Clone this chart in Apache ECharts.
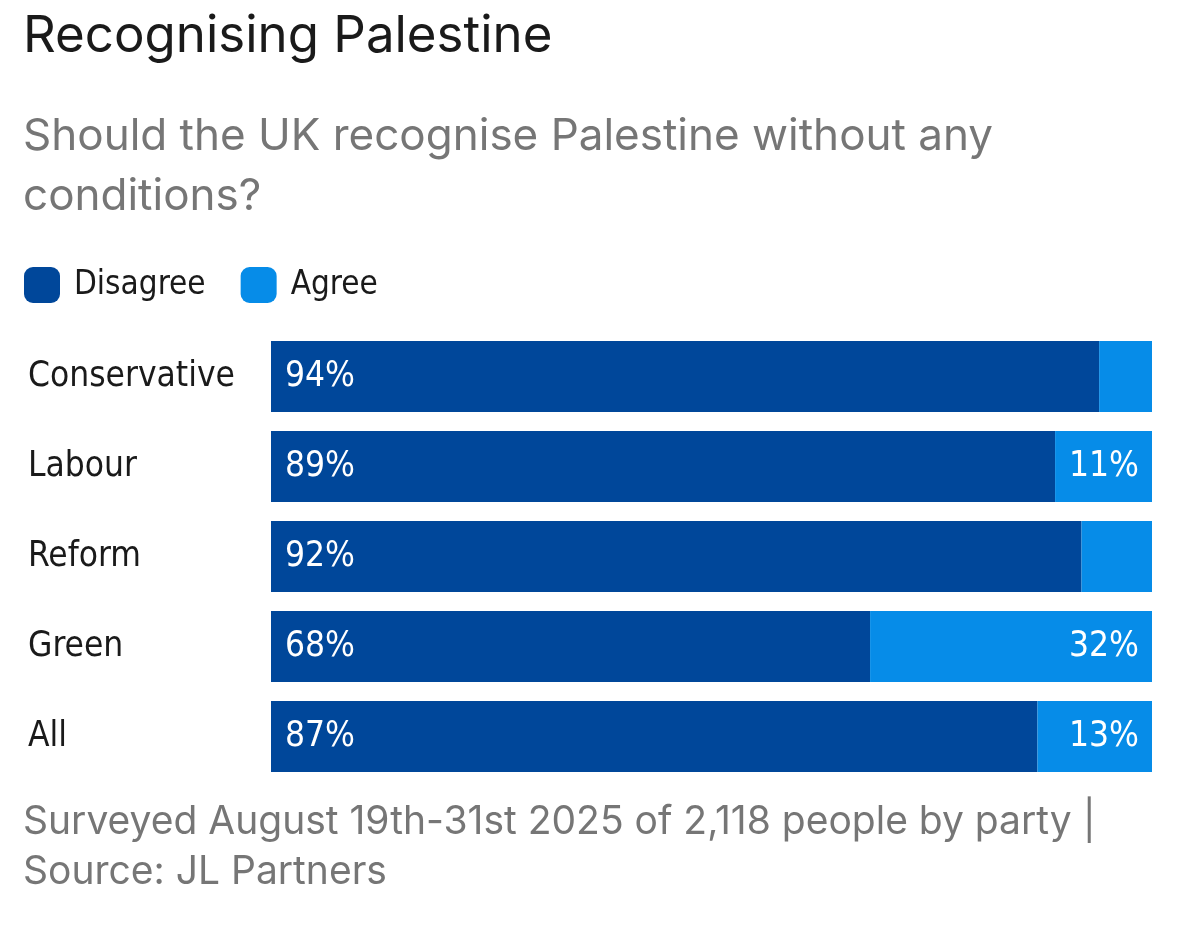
<!DOCTYPE html>
<html><head><meta charset="utf-8">
<script src="https://cdn.jsdelivr.net/npm/echarts@6/dist/echarts.min.js"></script>
<style>html,body{margin:0;padding:0;background:#fff}#c{width:1179px;height:933px}</style>
</head><body><div id="c"></div>
<script>
const categories = ['Conservative', 'Labour', 'Reform', 'Green', 'All'];
const disagree = [94, 89, 92, 68, 87];
const agree = [6, 11, 8, 32, 13];
const titleText = 'Recognising Palestine';
const subtitleText = 'Should the UK recognise Palestine without any\nconditions?';
const footerText = 'Surveyed August 19th-31st 2025 of 2,118 people by party |\nSource: JL Partners';

const cond = '"DejaVu Sans Condensed", "Liberation Sans Narrow", sans-serif';
const chart = echarts.init(document.getElementById('c'), null, {renderer: 'canvas'});
chart.setOption({
  backgroundColor: '#fff',
  animation: false,
  title: [
    {text: titleText, left: 18, top: 6, textStyle: {fontFamily: 'Inter, sans-serif', fontSize: 51, fontWeight: 'normal', color: '#1a1a1a'}},
    {text: subtitleText, left: 18, top: 102, textStyle: {fontFamily: 'Inter, sans-serif', fontSize: 44, fontWeight: 'normal', color: '#767676', lineHeight: 60}},
    {text: footerText, left: 18, top: 792, textStyle: {fontFamily: 'Inter, sans-serif', fontSize: 39, fontWeight: 'normal', color: '#767676', lineHeight: 50}}
  ],
  legend: {
    left: 19, top: 262, itemWidth: 36, itemHeight: 36, itemGap: 35,
    icon: 'roundRect',
    textStyle: {fontFamily: cond, fontSize: 33, color: '#1a1a1a', padding: [3, 0, 0, 9]},
    data: ['Disagree', 'Agree']
  },
  grid: {left: 271, right: 27, top: 331.5, bottom: 151.5, containLabel: false},
  xAxis: {type: 'value', min: 0, max: 100, show: false},
  yAxis: {
    type: 'category', data: categories, inverse: true,
    axisLine: {show: false}, axisTick: {show: false},
    axisLabel: {align: 'left', margin: 243, fontFamily: cond, fontSize: 35, color: '#1a1a1a'}
  },
  series: [
    {name: 'Disagree', type: 'bar', stack: 's', data: disagree, barWidth: 71,
     itemStyle: {color: '#00479a'},
     label: {show: true, position: 'insideLeft', distance: 14, formatter: '{c}%', color: '#fff', fontFamily: cond, fontSize: 35}},
    {name: 'Agree', type: 'bar', stack: 's', data: agree, barWidth: 71,
     itemStyle: {color: '#068ce8'},
     label: {show: true, position: 'insideRight', distance: 13, formatter: p => p.value >= 10 ? p.value + '%' : '', color: '#fff', fontFamily: cond, fontSize: 35}}
  ]
});
</script></body></html>
